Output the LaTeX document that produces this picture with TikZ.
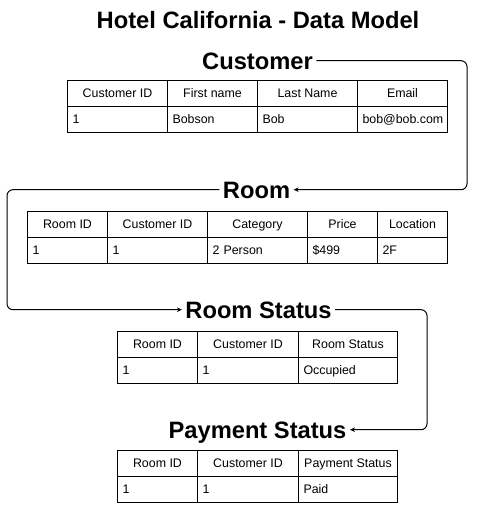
\documentclass[tikz,border=0pt]{standalone}
\usepackage{fontspec}
\setmainfont{Liberation Sans}
\usetikzlibrary{arrows.meta}

\begin{document}
\begin{tikzpicture}[x=1pt, y=-1pt, line width=1pt,
    ttl/.style={font=\bfseries\fontsize{23.7}{28}\selectfont, inner xsep=3pt, inner ysep=0pt, text height=16.6pt, text depth=0pt, anchor=base},
    hcell/.style={draw, anchor=north west, minimum width=#1, minimum height=26pt, inner sep=0pt, text height=9pt, text depth=0.8pt, font=\fontsize{12.4}{14}\selectfont},
    dcell/.style={draw, anchor=north west, text width=#1, align=left, minimum height=26pt, inner xsep=5pt, inner ysep=0pt, text height=9pt, text depth=0.8pt, font=\fontsize{12.4}{14}\selectfont},
    link/.style={rounded corners=6pt, -{Stealth[length=5pt, width=4.5pt, inset=1.5pt]}}]
    \useasboundingbox (0,0) rectangle (488,506);

    \node (title) [ttl] at (258,28) {Hotel California - Data Model};
    \node (customer) [ttl] at (257.5,69) {Customer};
    \node (room) [ttl] at (256.5,198) {Room};
    \node (roomstatus) [ttl] at (258.5,318) {Room Status};
    \node (payment) [ttl] at (257.5,438) {Payment Status};

    \coordinate (turnA) at (467,0);
    \coordinate (turnB) at (7,0);
    \coordinate (turnC) at (427,0);

    \node (cust-h1) [hcell=100] at (67,80) {Customer ID};
    \node (cust-h2) [hcell=90] at (167,80) {First name};
    \node (cust-h3) [hcell=100] at (257,80) {Last Name};
    \node (cust-h4) [hcell=90] at (357,80) {Email};
    \node (cust-d1) [dcell=90] at (67,106) {1};
    \node (cust-d2) [dcell=80] at (167,106) {Bobson};
    \node (cust-d3) [dcell=90] at (257,106) {Bob};
    \node (cust-d4) [dcell=80] at (357,106) {bob@bob.com};

    \node (room-h1) [hcell=80] at (27,211) {Room ID};
    \node (room-h2) [hcell=100] at (107,211) {Customer ID};
    \node (room-h3) [hcell=100] at (207,211) {Category};
    \node (room-h4) [hcell=70] at (307,211) {Price};
    \node (room-h5) [hcell=70] at (377,211) {Location};
    \node (room-d1) [dcell=70] at (27,237) {1};
    \node (room-d2) [dcell=90] at (107,237) {1};
    \node (room-d3) [dcell=90] at (207,237) {2 Person};
    \node (room-d4) [dcell=60] at (307,237) {\$499};
    \node (room-d5) [dcell=60] at (377,237) {2F};

    \node (rs-h1) [hcell=80] at (117,331) {Room ID};
    \node (rs-h2) [hcell=101] at (197,331) {Customer ID};
    \node (rs-h3) [hcell=99] at (298,331) {Room Status};
    \node (rs-d1) [dcell=70] at (117,357) {1};
    \node (rs-d2) [dcell=91] at (197,357) {1};
    \node (rs-d3) [dcell=89] at (298,357) {Occupied};

    \node (pay-h1) [hcell=80] at (117,450) {Room ID};
    \node (pay-h2) [hcell=101] at (197,450) {Customer ID};
    \node (pay-h3) [hcell=99] at (298,450) {Payment Status};
    \node (pay-d1) [dcell=70] at (117,476) {1};
    \node (pay-d2) [dcell=91] at (197,476) {1};
    \node (pay-d3) [dcell=89] at (298,476) {Paid};

    \draw[link] (customer.east) -| (turnA |- room.east) -- (room.east);
    \draw[link] (room.west) -| (turnB |- roomstatus.west) -- (roomstatus.west);
    \draw[link] (roomstatus.east) -| (turnC |- payment.east) -- (payment.east);
\end{tikzpicture}
\end{document}
